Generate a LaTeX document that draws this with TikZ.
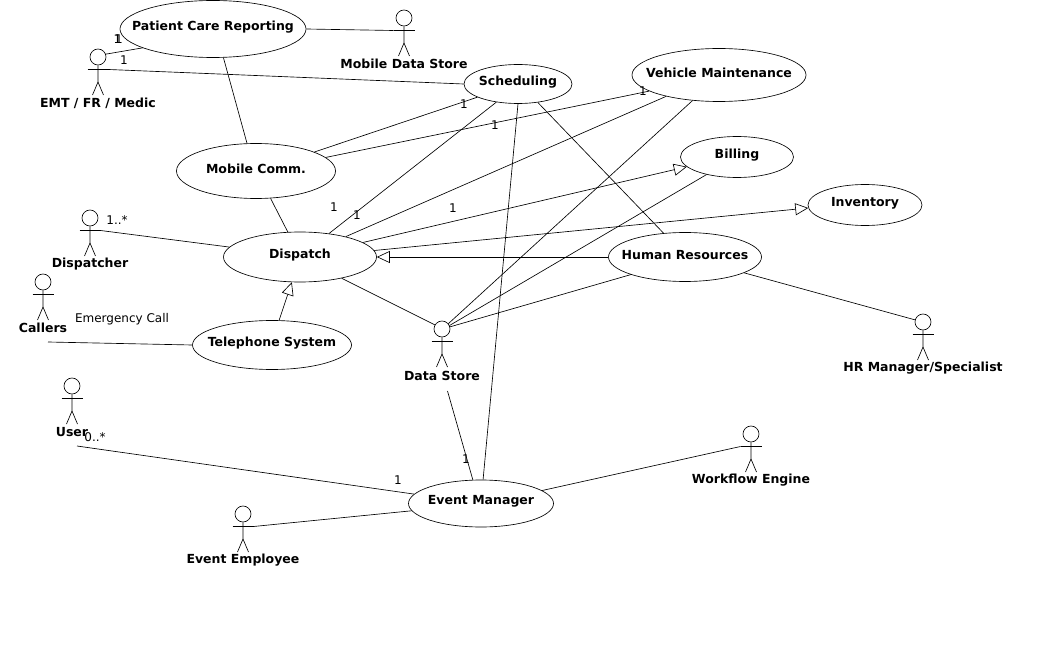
\documentclass[tikz,border=0pt]{standalone}
\usepackage{fontspec}
\setmainfont{DejaVu Sans}
\usetikzlibrary{arrows.meta,shapes.geometric}

\tikzset{
  usecase/.style={draw,ellipse,inner sep=0pt},
  title/.style={font=\fontsize{12.5}{14}\selectfont\bfseries,inner sep=0pt,yshift=2.2pt},
  mult/.style={font=\fontsize{12}{14}\selectfont,inner sep=0pt},
  head/.style={draw,circle,minimum size=16pt,inner sep=0pt},
  inherit/.style={-{Triangle[open,length=13pt,width=12pt]}}
}

% name, x, y of the head, label, y of the label
\newcommand{\actor}[5]{
  \node[head] (#1) at (#2,#3) {};
  \coordinate (#1l) at (#2-10.5,#3+12.5);
  \coordinate (#1r) at (#2+10.5,#3+12.5);
  \coordinate (#1hip) at (#2,#3+25);
  \coordinate (#1a) at (#2-5.5,#3+38);
  \coordinate (#1b) at (#2+5.5,#3+38);
  \draw (#1.south) -- (#1hip) -- (#1a);
  \draw (#1hip) -- (#1b);
  \draw (#1l) -- (#1r);
  \node[title,yshift=-3pt] (#1text) at (#2,#5) {#4};
}

\begin{document}
\begin{tikzpicture}[x=1pt,y=-1pt,line width=.65pt]
  \useasboundingbox (0,0) rectangle (1037,663);

  % use cases
  \node[usecase,minimum width=186pt,minimum height=57pt] (patient) at (213,29) {};
  \node[title] (patienttext) at (patient) {Patient Care Reporting};
  \node[usecase,minimum width=159pt,minimum height=55pt] (mobile) at (256,171) {};
  \node[title] (mobiletext) at (mobile) {Mobile Comm.};
  \node[usecase,minimum width=108pt,minimum height=39pt] (scheduling) at (518,84) {};
  \node[title] (schedulingtext) at (scheduling) {Scheduling};
  \node[usecase,minimum width=174pt,minimum height=53pt] (vehicle) at (719,75) {};
  \node[title] (vehicletext) at (vehicle) {Vehicle Maintenance};
  \node[usecase,minimum width=113pt,minimum height=41pt] (billing) at (737,157) {};
  \node[title] (billingtext) at (billing) {Billing};
  \node[usecase,minimum width=114pt,minimum height=41pt] (inventory) at (865,205) {};
  \node[title] (inventorytext) at (inventory) {Inventory};
  \node[usecase,minimum width=153pt,minimum height=49pt] (human) at (685,257) {};
  \node[title] (humantext) at (human) {Human Resources};
  \node[usecase,minimum width=153pt,minimum height=50pt] (dispatch) at (300,257) {};
  \node[title] (dispatchtext) at (dispatch) {Dispatch};
  \node[usecase,minimum width=159pt,minimum height=49pt] (telephone) at (272,345) {};
  \node[title] (telephonetext) at (telephone) {Telephone System};
  \node[usecase,minimum width=145pt,minimum height=47pt] (event) at (481,503.5) {};
  \node[title] (eventtext) at (event) {Event Manager};

  % actors
  \actor{mds}{404}{18}{Mobile Data Store}{63}
  \actor{emt}{98}{57}{EMT / FR / Medic}{103}
  \actor{dispatcher}{90}{218}{Dispatcher}{263}
  \actor{callers}{43}{282}{Callers}{327}
  \actor{user}{72}{386}{User}{431}
  \actor{store}{442}{329}{Data Store}{375}
  \actor{employee}{243}{514}{Event Employee}{559}
  \actor{workflow}{751}{434}{Workflow Engine}{479}
  \actor{hr}{923}{322}{HR Manager/Specialist}{367}

  \coordinate (callersend) at (48,342);
  \coordinate (userend) at (77,446);
  \coordinate (storeend) at (447.5,391);

  % associations
  \draw (patient.east) -- (mdsl);
  \draw (patient.195) -- (emt.20);
  \draw (emtr) -- (scheduling.west);
  \draw (patient.290) -- (mobile.108);
  \draw (mobile.18) -- (scheduling.198);
  \draw (mobile.11) -- (vehicle.193.5);
  \draw (mobile.298) -- (dispatch.116);
  \draw (dispatcherr) -- (dispatch.172);
  \draw (dispatch.39.4) -- (scheduling.220.6);
  \draw (dispatch.24) -- (vehicle.202);
  \draw (callersend) -- (telephone.west);
  \draw (dispatch.333) -- (store.150);
  \draw (scheduling.south) -- (event.85);
  \draw (scheduling.317) -- (human.132.5);
  \draw (vehicle.224) -- (store.40);
  \draw (billing.210) -- (store.25);
  \draw (human.198) -- (store.15);
  \draw (storeend) -- (event.109);
  \draw (userend) -- (event.172);
  \draw (employeer) -- (event.186);
  \draw (event.12) -- (workflowl);
  \draw (human.345) -- (hr.165);

  % generalizations
  \draw[inherit] (dispatch.13) -- (billing.191.5);
  \draw[inherit] (dispatch.5) -- (inventory.183);
  \draw[inherit] (human.west) -- (dispatch.east);
  \draw[inherit] (telephone.74) -- (dispatch.252);

  % multiplicities
  \node[mult] (m1) at (117.5,39) {1};
  \node[mult] (m2) at (119,39) {1};
  \node[mult] (m3) at (124,60) {1};
  \node[mult] (m4) at (464,104) {1};
  \node[mult] (m5) at (495,125) {1};
  \node[mult] (m6) at (643,91) {1};
  \node[mult] (m7) at (334,207) {1};
  \node[mult] (m8) at (357,215) {1};
  \node[mult] (m9) at (453,208) {1};
  \node[mult] (m10) at (117,220) {1..*};
  \node[mult] (m11) at (95,437) {0..*};
  \node[mult] (m12) at (398,480) {1};
  \node[mult] (m13) at (466,459) {1};
  \node[mult] (emergency) at (122,319) {Emergency Call};
\end{tikzpicture}
\end{document}
